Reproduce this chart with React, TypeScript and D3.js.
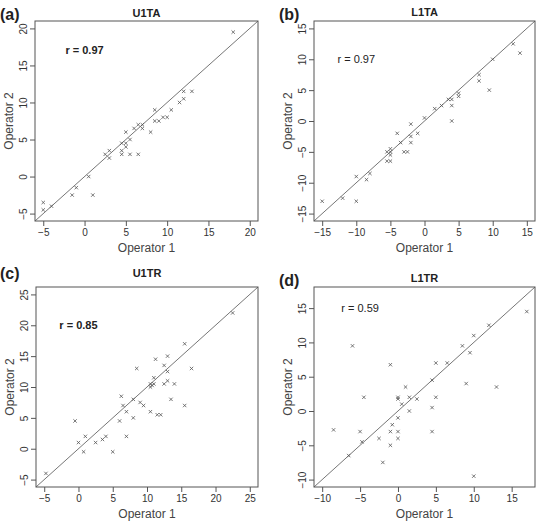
import { useRef, useEffect } from "react";
import * as d3 from "d3";

// Operator 1 vs Operator 2 measurements, one pair of arrays per panel
const aOp1 = [-5, -5, -4, -1.5, -1, 0.5, 1, 2.5, 3, 3, 4.5, 4.5, 4.5, 5, 5, 5, 5.5, 5.5, 6, 6.5, 7, 7, 6.5, 8, 8.5, 8.5, 9, 9.5, 10, 10.5, 11.5, 12, 12, 13, 18];
const aOp2 = [-3.5, -4.5, -4, -2.5, -1.5, 0, -2.5, 3, 3.5, 2.5, 4.5, 3.5, 3, 6, 4.5, 4, 5, 3, 6.5, 7, 7, 6.5, 3, 6, 9, 7.5, 7.5, 8, 8, 9, 10, 10.5, 11.5, 11.5, 19.5];

const bOp1 = [-15, -12, -10, -10, -8.5, -8, -5.5, -5.5, -5, -5, -5, -5, -4, -3.5, -3, -2.5, -2, -2, -2, -1, 0, 1.5, 2.5, 3.5, 4, 4, 4, 5, 5, 8, 8, 9.5, 10, 13, 14];
const bOp2 = [-13, -12.5, -9, -13, -9.5, -8.5, -5, -6.5, -6.5, -4.5, -5, -5.5, -2, -3.5, -5, -5, -0.5, -2.5, -3.5, -2, 0.5, 2, 2.5, 3.5, 3.5, 2.5, 0, 4.5, 4, 7.5, 6.5, 5, 10, 12.5, 11];

const cOp1 = [-4.75, -0.5, 0, 0.75, 1, 2.5, 3.5, 4, 5, 6, 6.25, 6.5, 7, 7, 8, 8, 8.5, 9, 9.5, 10.5, 10.5, 10.75, 10.5, 11, 11, 11.25, 11.5, 12, 12.5, 12.5, 13, 13, 13, 14, 13.5, 15.5, 15.5, 16.5, 22.5];
const cOp2 = [-4, 4.5, 1, -0.5, 2, 1, 1.5, 2, -0.5, 4.5, 8.5, 7, 6, 2, 8, 5, 13, 7.5, 7, 10.5, 10, 10.25, 6, 10.5, 11.5, 14.5, 5.5, 5.5, 13.5, 10.5, 15, 12.5, 11, 10.5, 8, 17, 7, 13, 22];

const dOp1 = [17, 12, 10, 8.5, 9.5, 9, 13, 10, -6, -1, 5, 6.5, 4.5, 1, -4.5, 0, 0, 1.5, 2.5, 5, 0.5, 1.5, 4.5, 0, -0.75, -8.5, -5, -1, 0, 4.5, -2.5, 0, -4.75, -1, -6.5, -2];
const dOp2 = [14.5, 12.5, 11, 9.5, 8.5, 4, 3.5, -9.5, 9.5, 6.75, 7, 7, 4.5, 3.5, 2, 2, 1.75, 2, 1.75, 2, 1, 0, 0.5, -1, -2, -2.75, -3, -3, -3, -3, -4, -4, -4.5, -5, -6.5, -7.5];

const titles = ["U1TA", "L1TA", "U1TR", "L1TR"];
const letters = ["(a)", "(b)", "(c)", "(d)"];
const rLabels = ["r = 0.97", "r = 0.97", "r = 0.85", "r = 0.59"];

const ticksA = [-5, 0, 5, 10, 15, 20];
const ticksB = [-15, -10, -5, 0, 5, 10, 15];
const ticksC = [-5, 0, 5, 10, 15, 20, 25];
const ticksD = [-10, -5, 0, 5, 10, 15];

const FONT = "'Liberation Sans', Arial, sans-serif";

const panels = [
  { op1: aOp1, op2: aOp2, ticks: ticksA, lim: [-5, 20], rAt: [0, 17], bold: true, left: 35, right: 258, top: 21, bottom: 221, letterX: 0, letterY: 20, titleY: 17 },
  { op1: bOp1, op2: bOp2, ticks: ticksB, lim: [-15, 15], rAt: [-10, 10], bold: false, left: 314, right: 535, top: 21, bottom: 221, letterX: 279, letterY: 20, titleY: 16 },
  { op1: cOp1, op2: cOp2, ticks: ticksC, lim: [-5, 25], rAt: [0, 20], bold: true, left: 36, right: 258, top: 287, bottom: 487, letterX: 0, letterY: 279, titleY: 277 },
  { op1: dOp1, op2: dOp2, ticks: ticksD, lim: [-10, 17], rAt: [-5, 15], bold: false, left: 314, right: 535, top: 287, bottom: 487, letterX: 279, letterY: 286, titleY: 282 },
];

function App() {
  const svgRef = useRef(null);

  useEffect(() => {
    const svg = d3.select(svgRef.current);
    svg.selectAll("*").remove();

    panels.forEach((p, i) => {
      // R-style axis limits: 4% padding on each side, same range on both axes
      const pad = (p.lim[1] - p.lim[0]) * 0.04;
      const dom = [p.lim[0] - pad, p.lim[1] + pad];
      const x = d3.scaleLinear().domain(dom).range([p.left, p.right]);
      const y = d3.scaleLinear().domain(dom).range([p.bottom, p.top]);
      const g = svg.append("g");

      // x axis
      const xAxis = d3.axisBottom(x).tickValues(p.ticks).tickSize(5).tickPadding(3);
      const gx = g.append("g").attr("transform", `translate(0,${p.bottom})`).call(xAxis);
      gx.select(".domain").remove();
      gx.selectAll("line").attr("stroke", "#555");
      gx.selectAll("text")
        .attr("fill", "#333")
        .style("font-size", "10px")
        .style("font-family", FONT);

      // y axis, labels turned like R's default
      const yAxis = d3.axisLeft(y).tickValues(p.ticks).tickSize(5);
      const gy = g.append("g").attr("transform", `translate(${p.left},0)`).call(yAxis);
      gy.select(".domain").remove();
      gy.selectAll("line").attr("stroke", "#555");
      gy.selectAll("text")
        .attr("transform", "rotate(-90)")
        .attr("x", 0)
        .attr("y", -8.5)
        .attr("dy", 0)
        .attr("text-anchor", "middle")
        .attr("fill", "#333")
        .style("font-size", "10px")
        .style("font-family", FONT);

      // identity line
      g.append("line")
        .attr("x1", x(dom[0]))
        .attr("y1", y(dom[0]))
        .attr("x2", x(dom[1]))
        .attr("y2", y(dom[1]))
        .attr("stroke", "#666")
        .attr("stroke-width", 0.9);

      // points as small crosses
      const s = 1.7;
      const pts = g.selectAll(".pt")
        .data(p.op1.map((v, k) => [v, p.op2[k]]))
        .join("g")
        .attr("transform", (d) => `translate(${x(d[0])},${y(d[1])})`)
        .attr("stroke", "#555")
        .attr("stroke-width", 0.8);
      pts.append("line").attr("x1", -s).attr("y1", -s).attr("x2", s).attr("y2", s);
      pts.append("line").attr("x1", -s).attr("y1", s).attr("x2", s).attr("y2", -s);

      // plot box
      g.append("rect")
        .attr("x", p.left)
        .attr("y", p.top)
        .attr("width", p.right - p.left)
        .attr("height", p.bottom - p.top)
        .attr("fill", "none")
        .attr("stroke", "#555")
        .attr("stroke-width", 1);

      // correlation label
      g.append("text")
        .attr("x", x(p.rAt[0]))
        .attr("y", y(p.rAt[1]))
        .attr("dy", "0.35em")
        .attr("text-anchor", "middle")
        .attr("fill", "#222")
        .style("font-size", "11px")
        .style("font-weight", p.bold ? "bold" : "normal")
        .style("font-family", FONT)
        .text(rLabels[i]);

      // title and panel letter
      g.append("text")
        .attr("x", (p.left + p.right) / 2)
        .attr("y", p.titleY)
        .attr("text-anchor", "middle")
        .attr("fill", "#222")
        .style("font-size", "11px")
        .style("font-weight", "bold")
        .style("font-family", FONT)
        .text(titles[i]);

      g.append("text")
        .attr("x", p.letterX)
        .attr("y", p.letterY)
        .attr("fill", "#222")
        .style("font-size", "16px")
        .style("font-weight", "bold")
        .style("font-family", FONT)
        .text(letters[i]);

      // axis titles
      g.append("text")
        .attr("x", (p.left + p.right) / 2)
        .attr("y", p.bottom + 30.5)
        .attr("text-anchor", "middle")
        .attr("fill", "#444")
        .style("font-size", "12px")
        .style("font-family", FONT)
        .text("Operator 1");

      g.append("text")
        .attr("transform", `translate(${p.left - 22},${(p.top + p.bottom) / 2}) rotate(-90)`)
        .attr("text-anchor", "middle")
        .attr("fill", "#444")
        .style("font-size", "12px")
        .style("font-family", FONT)
        .text("Operator 2");
    });
  }, []);

  return (
    <svg
      ref={svgRef}
      width={538}
      height={521}
      style={{ position: "absolute", left: 0, top: 0, background: "#fff" }}
    ></svg>
  );
}

export default App;
